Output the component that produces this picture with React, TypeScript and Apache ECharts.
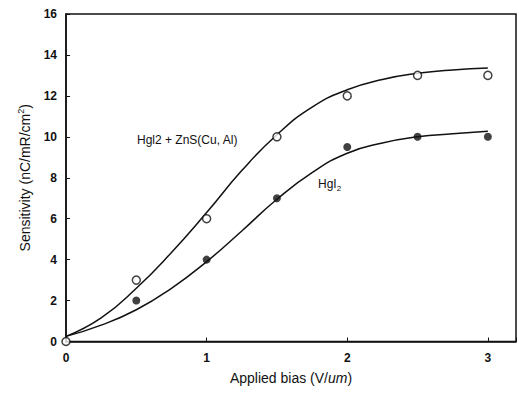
import React, { useEffect, useRef } from "react";
import * as echarts from "echarts";

const biasPoints = [0, 0.5, 1, 1.5, 2, 2.5, 3];
const compositeMeasured = [0, 3, 6, 10, 12, 13, 13];
const hgi2BiasPoints = [0.5, 1, 1.5, 2, 2.5, 3];
const hgi2Measured = [2, 4, 7, 9.5, 10, 10];

const fitBias = [0, 0.25, 0.5, 0.75, 1, 1.25, 1.5, 1.75, 2, 2.25, 2.5, 2.75, 3];
const compositeFit = [0.25, 1.15, 2.6, 4.35, 6.3, 8.35, 10.1, 11.45, 12.3, 12.8, 13.1, 13.27, 13.36];
const hgi2Fit = [0.25, 0.8, 1.55, 2.6, 3.9, 5.4, 6.95, 8.25, 9.2, 9.7, 10.0, 10.15, 10.27];

const yTicks = [0, 2, 4, 6, 8, 10, 12, 14, 16];
const xTicks = [0, 1, 2, 3];

const FONT = "Liberation Sans, Arial, sans-serif";

export default function App() {
  const ref = useRef<HTMLDivElement>(null);
  useEffect(() => {
    if (!ref.current) return;
    const chart = echarts.init(ref.current, null, { renderer: "svg" });
    const zip = (xs: number[], ys: number[]) => xs.map((x, i) => [x, ys[i]]);
    chart.setOption({
      animation: false,
      backgroundColor: "#fff",
      grid: {
        left: 66,
        top: 14,
        width: 450,
        height: 327.5,
        show: true,
        borderColor: "#111",
        borderWidth: 1.5,
      },
      xAxis: {
        type: "value",
        min: 0,
        max: 3.2,
        interval: 1,
        axisLine: { show: true, lineStyle: { color: "#111", width: 1.5 } },
        axisTick: { show: true, inside: true, length: 4, lineStyle: { color: "#111" } },
        splitLine: { show: false },
        axisLabel: {
          color: "#111",
          fontFamily: FONT,
          fontSize: 12,
          fontWeight: "bold",
          margin: 10,
          formatter: (v: number) => (xTicks.includes(v) ? String(v) : ""),
        },
        name: "Applied bias (V/{i|um})",
        nameLocation: "middle",
        nameGap: 29,
        nameTextStyle: {
          color: "#111",
          fontFamily: FONT,
          fontSize: 14,
          rich: { i: { fontStyle: "italic", fontFamily: FONT, fontSize: 14, color: "#111" } },
        },
      },
      yAxis: {
        type: "value",
        min: 0,
        max: 16,
        interval: 2,
        axisLine: { show: true, lineStyle: { color: "#111", width: 1.5 } },
        axisTick: { show: true, inside: true, length: 4, lineStyle: { color: "#111" } },
        splitLine: { show: false },
        axisLabel: {
          color: "#111",
          fontFamily: FONT,
          fontSize: 12,
          fontWeight: "bold",
          margin: 9,
          formatter: (v: number) => (yTicks.includes(v) ? String(v) : ""),
        },
        name: "Sensitivity (nC/mR/cm{sup|2})",
        nameLocation: "middle",
        nameGap: 33,
        nameTextStyle: {
          color: "#111",
          fontFamily: FONT,
          fontSize: 14,
          rich: { sup: { fontSize: 9, verticalAlign: "top", padding: [0, 0, 8, 0], fontFamily: FONT, color: "#111" } },
        },
      },
      series: [
        {
          type: "line",
          data: zip(fitBias, compositeFit),
          smooth: 0.5,
          symbol: "none",
          lineStyle: { color: "#111", width: 1.5 },
          z: 2,
        },
        {
          type: "line",
          data: zip(fitBias, hgi2Fit),
          smooth: 0.5,
          symbol: "none",
          lineStyle: { color: "#111", width: 1.5 },
          z: 2,
        },
        {
          type: "scatter",
          data: zip(biasPoints, compositeMeasured),
          symbol: "circle",
          symbolSize: 8,
          itemStyle: { color: "#fff", borderColor: "#111", borderWidth: 1.5 },
          z: 3,
        },
        {
          type: "scatter",
          data: zip(hgi2BiasPoints, hgi2Measured),
          symbol: "circle",
          symbolSize: 8,
          itemStyle: { color: "#111" },
          z: 3,
        },
      ],
      graphic: [
        {
          type: "text",
          left: 137,
          top: 134,
          style: { text: "Hgl2 + ZnS(Cu, Al)", font: `12px ${FONT}`, fill: "#111" },
        },
        {
          type: "text",
          left: 318,
          top: 178,
          style: {
            text: "HgI{sub|2}",
            font: `12px ${FONT}`,
            fill: "#111",
            rich: { sub: { fontSize: 8, padding: [8, 0, 0, 0], fontFamily: FONT, fill: "#111" } },
          },
        },
      ],
    });
    return () => chart.dispose();
  }, []);
  return <div ref={ref} style={{ width: 519, height: 397, position: "absolute", left: 0, top: 0 }} />;
}
